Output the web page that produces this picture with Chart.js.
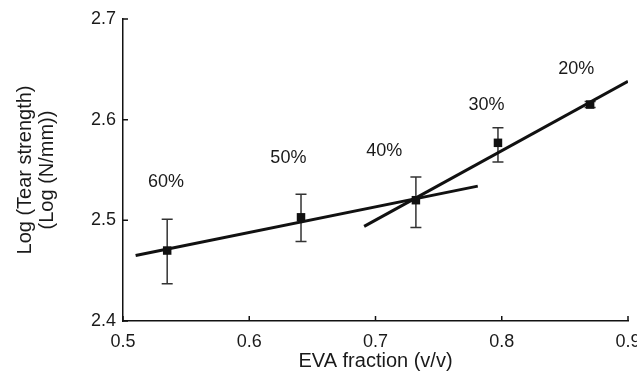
<!DOCTYPE html>
<html>
<head>
<meta charset="utf-8">
<script src="https://cdn.jsdelivr.net/npm/chart.js@4.4.0/dist/chart.umd.min.js"></script>
<style>
  html, body { margin: 0; padding: 0; background: #fff; }
  #wrap { width: 637px; height: 375px; position: relative; }
</style>
</head>
<body>
<div id="wrap"><canvas id="chart"></canvas></div>
<script>
// measured points (EVA fraction vs log tear strength)
const evaFraction = [0.535, 0.641, 0.732, 0.797, 0.870];
const logTear = [2.470, 2.503, 2.520, 2.577, 2.615];
const errLow = [2.437, 2.479, 2.493, 2.558, 2.612];
const errHigh = [2.501, 2.526, 2.543, 2.592, 2.618];

// two fitted lines
const fitLowX = [0.510, 0.781];
const fitLowY = [2.465, 2.534];
const fitHighX = [0.691, 0.900];
const fitHighY = [2.494, 2.638];

// percentage labels, placed in data units
const pctText = ['60%', '50%', '40%', '30%', '20%'];
const pctX = [0.534, 0.631, 0.707, 0.788, 0.859];
const pctY = [2.538, 2.562, 2.569, 2.615, 2.650];

const xTicks = [0.5, 0.6, 0.7, 0.8, 0.9];
const yTicks = [2.4, 2.5, 2.6, 2.7];

const ink = '#111';
const textInk = '#1a1a1a';
const fontFamily = '"Liberation Sans", Arial, Helvetica, sans-serif';

const toPoints = (xs, ys) => xs.map((x, i) => ({x: x, y: ys[i]}));

const errorBars = {
  id: 'errorBars',
  beforeDatasetsDraw(chart) {
    const {ctx, scales: {x, y}} = chart;
    ctx.save();
    ctx.strokeStyle = '#333';
    ctx.lineWidth = 1.5;
    evaFraction.forEach((v, i) => {
      const px = x.getPixelForValue(v);
      const top = y.getPixelForValue(errHigh[i]);
      const bot = y.getPixelForValue(errLow[i]);
      ctx.beginPath();
      ctx.moveTo(px, top); ctx.lineTo(px, bot);
      ctx.moveTo(px - 5.5, top); ctx.lineTo(px + 5.5, top);
      ctx.moveTo(px - 5.5, bot); ctx.lineTo(px + 5.5, bot);
      ctx.stroke();
    });
    ctx.restore();
  },
  afterDraw(chart) {
    const {ctx, scales: {x, y}, chartArea} = chart;
    ctx.save();
    // inward tick marks
    ctx.strokeStyle = ink;
    ctx.lineWidth = 1.5;
    ctx.beginPath();
    xTicks.forEach(v => {
      const px = x.getPixelForValue(v);
      ctx.moveTo(px, chartArea.bottom); ctx.lineTo(px, chartArea.bottom - 5);
    });
    yTicks.forEach(v => {
      const py = y.getPixelForValue(v);
      ctx.moveTo(chartArea.left, py); ctx.lineTo(chartArea.left + 5, py);
    });
    ctx.stroke();
    // percentage labels
    ctx.fillStyle = textInk;
    ctx.font = '18px ' + fontFamily;
    ctx.textAlign = 'center';
    ctx.textBaseline = 'middle';
    pctText.forEach((t, i) => {
      ctx.fillText(t, x.getPixelForValue(pctX[i]), y.getPixelForValue(pctY[i]));
    });
    ctx.restore();
  }
};

new Chart(document.getElementById('chart'), {
  type: 'scatter',
  data: {
    datasets: [
      {
        label: 'fit low',
        data: toPoints(fitLowX, fitLowY),
        showLine: true,
        borderColor: ink,
        borderWidth: 3,
        pointRadius: 0
      },
      {
        label: 'fit high',
        data: toPoints(fitHighX, fitHighY),
        showLine: true,
        borderColor: ink,
        borderWidth: 3,
        pointRadius: 0
      },
      {
        label: 'measured',
        data: toPoints(evaFraction, logTear),
        pointStyle: 'rect',
        pointRadius: 6,
        backgroundColor: ink,
        borderColor: ink,
        borderWidth: 0
      }
    ]
  },
  options: {
    responsive: true,
    maintainAspectRatio: false,
    animation: false,
    layout: { padding: { top: 19, right: 9, left: 0, bottom: 0 } },
    plugins: {
      legend: { display: false },
      tooltip: { enabled: false }
    },
    scales: {
      x: {
        type: 'linear',
        min: 0.5,
        max: 0.9,
        afterFit: (s) => { s.height = 54; s.paddingLeft = 0; s.paddingRight = 0; },
        afterBuildTicks: (s) => { s.ticks = xTicks.map(v => ({value: v})); },
        grid: { drawOnChartArea: false, drawTicks: false },
        border: { display: true, color: ink, width: 1.5 },
        ticks: {
          padding: 10,
          color: textInk,
          font: { family: fontFamily, size: 18 },
          callback: (v) => v.toFixed(1)
        },
        title: {
          display: true,
          text: 'EVA fraction (v/v)',
          color: textInk,
          font: { family: fontFamily, size: 20, lineHeight: 1.2 },
          padding: { top: 0, bottom: 2 }
        }
      },
      y: {
        type: 'linear',
        min: 2.4,
        max: 2.7,
        afterFit: (s) => { s.width = 123; s.paddingTop = 0; s.paddingBottom = 0; },
        afterBuildTicks: (s) => { s.ticks = yTicks.map(v => ({value: v})); },
        grid: { drawOnChartArea: false, drawTicks: false },
        border: { display: true, color: ink, width: 1.5 },
        ticks: {
          padding: 7,
          color: textInk,
          font: { family: fontFamily, size: 18 },
          callback: (v) => v.toFixed(1)
        },
        title: {
          display: true,
          text: ['Log (Tear strength)', '(Log (N/mm))'],
          color: textInk,
          font: { family: fontFamily, size: 20, lineHeight: 1.1 },
          padding: { top: 14, bottom: 0 }
        }
      }
    }
  },
  plugins: [errorBars]
});
</script>
</body>
</html>
